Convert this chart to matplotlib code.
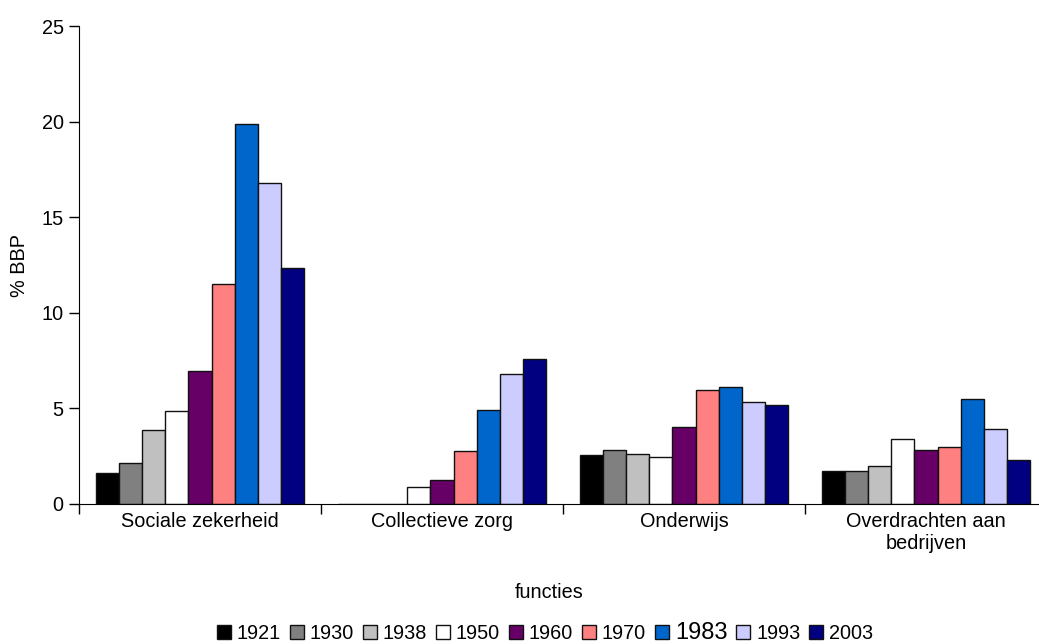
import matplotlib
matplotlib.use("Agg")
import matplotlib.pyplot as plt
import numpy as np

# categories and years
functies = ["Sociale zekerheid", "Collectieve zorg", "Onderwijs", "Overdrachten aan\nbedrijven"]
jaren = ["1921", "1930", "1938", "1950", "1960", "1970", "1983", "1993", "2003"]

# % BBP per year, one value per functie
v1921 = [1.6, 0.0, 2.58, 1.73]
v1930 = [2.15, 0.0, 2.8, 1.71]
v1938 = [3.87, 0.0, 2.63, 1.97]
v1950 = [4.86, 0.87, 2.47, 3.42]
v1960 = [6.96, 1.23, 4.04, 2.8]
v1970 = [11.5, 2.79, 5.98, 2.98]
v1983 = [19.9, 4.9, 6.1, 5.49]
v1993 = [16.8, 6.8, 5.35, 3.9]
v2003 = [12.36, 7.58, 5.18, 2.28]
reeksen = [v1921, v1930, v1938, v1950, v1960, v1970, v1983, v1993, v2003]

kleuren = ["#000000", "#808080", "#C0C0C0", "#FFFFFF", "#660066",
           "#FF8080", "#0066CC", "#CCCCFF", "#000080"]

plt.rcParams['font.family'] = ['Liberation Sans', 'DejaVu Sans']
plt.rcParams['font.size'] = 14.3

fig = plt.figure(figsize=(10.39, 6.44), dpi=100)
ax = fig.add_axes([0.076, 0.2174, 0.9317, 0.7422])

x = np.arange(len(functies)) + 0.5
w = 0.86 / len(jaren)
for i, (jaar, vals) in enumerate(zip(jaren, reeksen)):
    ax.bar(x + (i - 4) * w, vals, width=w, color=kleuren[i],
           edgecolor="#111111", linewidth=1.0, label=jaar)

ax.set_xlim(0, len(functies))
ax.set_ylim(0, 25)
ax.set_yticks([0, 5, 10, 15, 20, 25])
ax.tick_params(axis='y', direction='out', length=7, width=1, pad=4)

# category boundaries as ticks, labels in the middle
ax.set_xticks(np.arange(len(functies) + 1))
ax.set_xticklabels([])
ax.tick_params(axis='x', which='major', direction='out', length=7, width=1)
ax.set_xticks(x, minor=True)
ax.set_xticklabels(functies, minor=True)
ax.tick_params(axis='x', which='minor', length=0, pad=6)

ax.spines['top'].set_visible(False)
ax.spines['right'].set_visible(False)

ax.set_ylabel("% BBP")
ax.yaxis.set_label_coords(-0.052, 0.5)
ax.set_xlabel("functies")
ax.xaxis.set_label_coords(0.4855, -0.166)

leg = fig.legend(loc='center', bbox_to_anchor=(545 / 1039, 1 - 633 / 644),
                 ncol=9, frameon=False, handlelength=0.7, handleheight=0.7,
                 handletextpad=0.3, columnspacing=0.45, borderaxespad=0)
leg.get_texts()[6].set_fontsize(17)

fig.savefig("out.png", dpi=100)
